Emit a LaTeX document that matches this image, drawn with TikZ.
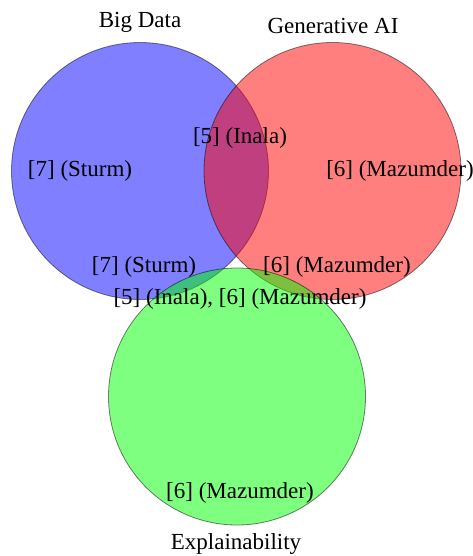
\documentclass[tikz,border=0pt]{standalone}
\usepackage{fontspec}
\setmainfont{Liberation Serif}

\begin{document}
\begin{tikzpicture}[x=0.5pt, y=-0.5pt, font=\fontsize{11.5}{14}\selectfont]
        \definecolor{setblue}{RGB}{0,0,255}
        \definecolor{setred}{RGB}{255,0,0}
        \definecolor{setgreen}{RGB}{0,255,0}
        \tikzset{setcircle/.style={draw=black, fill=#1, opacity=0.5, thin}}

        \useasboundingbox (0, 0) rectangle (472, 556);

        % the three sets
        \draw[setcircle=setblue] (140, 171) circle [radius=128.5];
        \draw[setcircle=setred] (332.5, 171) circle [radius=128.5];
        \draw[setcircle=setgreen] (237, 396.5) circle [radius=128.5];

        % set names
        \node (bigdata) at (140, 22) {Big Data};
        \node (genai) at (333, 26) {Generative AI};
        \node (explain) at (236, 543.5) {Explainability};

        % papers in each region
        \node (sturmonly) at (80, 170.5) {[7] (Sturm)};
        \node (inalaonly) at (240, 138) {[5] (Inala)};
        \node (mazonly) at (400, 170.5) {[6] (Mazumder)};
        \node (sturmx) at (144, 267) {[7] (Sturm)};
        \node (mazx) at (337, 267) {[6] (Mazumder)};
        \node (allthree) at (240, 298.5) {[5] (Inala), [6] (Mazumder)};
        \node (mazexp) at (240, 493) {[6] (Mazumder)};

\end{tikzpicture}
\end{document}
